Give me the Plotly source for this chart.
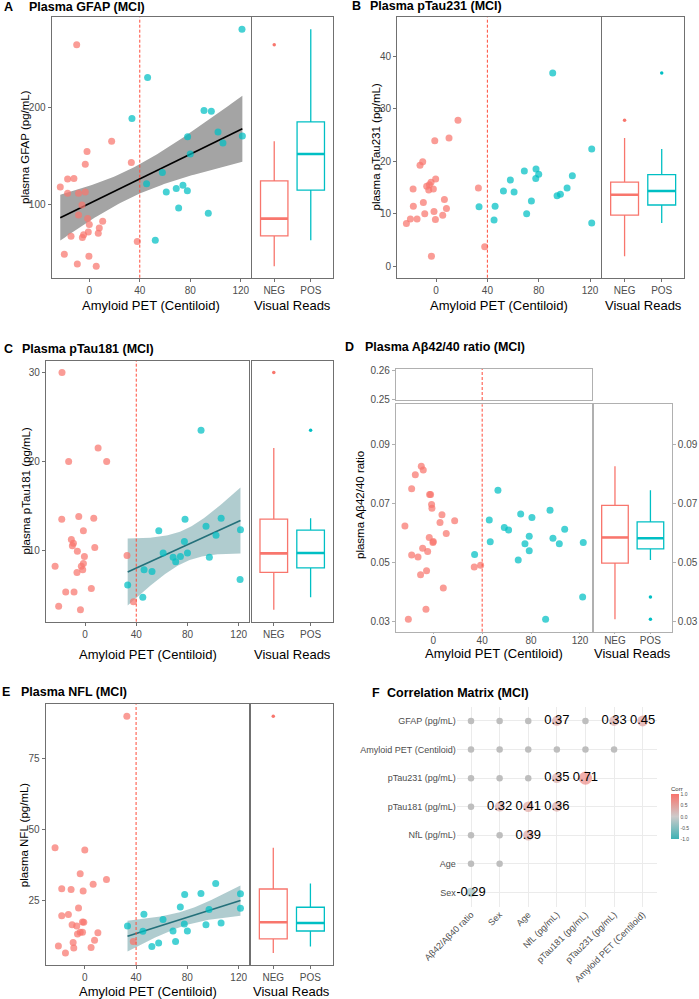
import numpy as np
import plotly.graph_objects as go

# ---------------- data ----------------
groups = ["NEG", "POS"]
cutoff_cl = 40
cl_ticks = [0, 40, 80, 120]

# A: GFAP
gfap_neg_cl = [-10, 17.7, -1.8, -3.2, 33.3, -17.2, -12.2, -23, -17.2, -8.5, -3.2, -5.8, -8.5, -1.3, 0,
               10.6, 7.9, -0.8, -4.5, 7.1, -14.5, -5.5, 38, -19.8, -0.3, -9.5, 5.5]
gfap_neg = [264.6, 165.3, 154.6, 141.6, 143.3, 126.5, 126.8, 118.2, 111.7, 111.7, 113, 99.7, 89.3, 85.6, 79.4,
            82.8, 75.9, 71.8, 69, 70.4, 67.4, 66, 61.9, 48.8, 46.7, 38.8, 36.4]
gfap_pos_cl = [121, 46.2, 33.8, 90.9, 96.7, 102, 121.3, 77.9, 105.9, 80, 57.9, 45.4, 74.2, 68.9, 61, 77.7,
               70.8, 94.3, 52.3]
gfap_pos = [280.8, 230.9, 188.7, 196.9, 196.2, 174.9, 170.8, 169.8, 163.6, 152.2, 133, 121.6, 119.9, 116.5,
            113, 114.4, 96.6, 91.1, 63.2]

# B: pTau231
pt231_neg_cl = [-23.1, -20, -14.8, -17.9, -17.7, -9.9, -8.8, -12.5, -10.4, -1, 10.1, 17.1, -5.2, -5.7, -3.9,
                -2.1, -0.3, -1.6, -0.5, 6.5, 8.1, 5.2, -3.6, 33, 37.9, -7.3]
pt231_neg = [8.1, 9, 9, 14.7, 11.4, 12.1, 10, 19.2, 19.9, 23.9, 24.4, 27.8, 15.5, 14.5, 16, 14.7, 16.6, 10.4,
             8.9, 12.7, 11, 9.7, 1.9, 14.9, 3.7, 15.2]
pt231_pos_cl = [90.9, 121.3, 121.3, 33.5, 46, 45.2, 52.5, 57.9, 60.8, 68.8, 74.3, 70.6, 77.7, 77.9, 80, 94.3,
                96.9, 102.1, 106.2]
pt231_pos = [36.8, 22.3, 8.2, 11.3, 11.4, 8.8, 14.3, 16.4, 14.1, 18.1, 12.4, 10, 16.7, 18.5, 17.5, 13.4, 13.7,
             14.9, 17.2]

# C: pTau181
pt181_neg_cl = [-18, -12.8, 10.2, 16.9, -18.2, -4.9, 6.8, -1.3, -10.7, -9.1, -9.9, 7.6, -6, -0.5, -23.4, -1.3,
                -2.9, -1.8, -6.3, 32.8, 4.9, -15.1, -8.6, -20.6, -3.6, 37.8]
pt181_neg = [30, 20, 21.5, 20, 13.5, 13.8, 13.6, 12.2, 11.2, 10.8, 10.5, 10.3, 9.9, 9.3, 8.2, 8.5, 8.2, 7.8,
             7.5, 9.4, 5.7, 5.3, 5.3, 3.7, 3.3, 4.2]
pt181_pos_cl = [90.6, 78.1, 106.3, 94.5, 57.6, 121.4, 102.3, 77.6, 61, 80, 97.1, 68.8, 74.5, 70.8, 46.1, 52.3,
                33.3, 45.1, 121.1]
pt181_pos = [23.5, 13.5, 13.6, 12.7, 12.2, 12.3, 11.7, 11, 9.7, 9.7, 9.2, 9.2, 9.3, 8.7, 7.8, 7.6, 6.1, 4.7, 6.7]

# D: Abeta42/40
ab_neg_cl = [-9.8, -8.2, -14.7, -17.7, -3, -2.2, -1.4, -1.1, 7.1, 17.5, 5.5, -23.2, 10.6, -3.3, 0, -0.3, -8.7,
             -4.6, -17.7, -12.5, 33.5, 38.7, -5.5, -10.4, 8.2, -6, -20.4]
ab_neg = [0.0826, 0.0813, 0.0797, 0.0749, 0.0730, 0.0730, 0.0696, 0.0683, 0.0661, 0.0641, 0.0635, 0.0623,
          0.0597, 0.0584, 0.0570, 0.0567, 0.0547, 0.0536, 0.0524, 0.0518, 0.0484, 0.0490, 0.0471, 0.0457,
          0.0412, 0.034, 0.0306]
ab_pos_cl = [52.9, 45.8, 58.1, 61.6, 71.5, 80.7, 95.5, 107.5, 78.5, 46.6, 97.9, 75, 103.1, 122.7, 78.5, 33.8,
             69.5, 122.2, 91.9]
ab_pos = [0.0744, 0.0643, 0.0618, 0.0609, 0.0664, 0.0652, 0.0676, 0.0612, 0.0588, 0.0569, 0.0581, 0.0563,
          0.0563, 0.0567, 0.0539, 0.0526, 0.0507, 0.0382, 0.0306]

# E: NfL
nfl_neg_cl = [32.8, -23.2, 0, 16.9, -3.6, 6.5, -18, -10.7, -1.3, -4.9, -18, -12.8, -9.9, -6.3, -1.8, -0.8,
              -3.6, -1.8, -5.7, 10.2, 7.6, -9.1, -20.6, -8.6, 4.9, -15.1, 37.8]
nfl_neg = [90.1, 43.7, 42.9, 32.5, 34.5, 30.8, 29.2, 28.9, 28.4, 22.4, 19.7, 20.1, 16.5, 16.1, 17.5, 17.4,
           13.9, 13.9, 13.2, 13.7, 11, 10.2, 9, 8.3, 8.5, 6.5, 10.6]
nfl_pos_cl = [102.1, 90.6, 77.9, 121.4, 74.5, 121.4, 96.9, 46.1, 61, 77.6, 94.5, 106.3, 33.3, 45.3, 68.8, 80,
              70.8, 57.6, 52.3]
nfl_pos = [31.1, 27.5, 27.2, 27.4, 22.8, 22.3, 21.9, 20.2, 18.4, 16.8, 16.5, 17.1, 16.1, 14.2, 14.3, 14.3,
           10.6, 10.1, 8.8]

# F: correlation matrix (lower triangle; None = not significant -> grey dot)
corr_cols = ["Aβ42/Aβ40 ratio", "Sex", "Age", "NfL (pg/mL)", "pTau181 (pg/mL)", "pTau231 (pg/mL)",
             "Amyloid PET (Centiloid)"]
corr_rows_lab = ["Sex", "Age", "NfL (pg/mL)", "pTau181 (pg/mL)", "pTau231 (pg/mL)",
                 "Amyloid PET (Centiloid)", "GFAP (pg/mL)"]
corr_vals = [
    [-0.29],
    [None, None],
    [None, None, 0.39],
    [None, 0.32, 0.41, 0.36],
    [None, None, None, 0.35, 0.71],
    [None, None, None, None, None, None],
    [None, None, None, 0.37, None, 0.33, 0.45],
]

# ---------------- styling ----------------
W, H = 699, 999
FONT = "Liberation Sans, Arial, sans-serif"
RED, CYAN = "#F8766D", "#00BFC4"
TICK_GREY = "#4D4D4D"
FRAME = "#707070"
FRAME_D = "#B0B0B0"


def t_quant(df):
    z = 1.959964
    g1 = (z ** 3 + z) / 4
    g2 = (5 * z ** 5 + 16 * z ** 3 + 3 * z) / 96
    g3 = (3 * z ** 7 + 19 * z ** 5 + 17 * z ** 3 - 15 * z) / 384
    return z + g1 / df + g2 / df ** 2 + g3 / df ** 3


def lm_band(x, y, n=80):
    x = np.asarray(x, float)
    y = np.asarray(y, float)
    b1, b0 = np.polyfit(x, y, 1)
    xs = np.linspace(x.min(), x.max(), n)
    yh = b0 + b1 * xs
    df = len(x) - 2
    s = np.sqrt(np.sum((y - (b0 + b1 * x)) ** 2) / df)
    se = s * np.sqrt(1 / len(x) + (xs - x.mean()) ** 2 / np.sum((x - x.mean()) ** 2))
    t = t_quant(df)
    return xs, yh, yh - t * se, yh + t * se


fig = go.Figure()
layout = {}
annotations = []
shapes = []


def ann(text, px, py, size, bold=False, angle=0, anchor="center", color="black"):
    annotations.append(dict(
        text=f"<b>{text}</b>" if bold else text, x=px / W, y=1 - py / H, xref="paper", yref="paper",
        xanchor=anchor, yanchor="middle", showarrow=False, textangle=angle,
        font=dict(family=FONT, size=size, color=color)))


def axes(n, xl, xr, yt, yb, xo, yo):
    k = "" if n == 1 else str(n)
    layout["xaxis" + k] = dict(domain=[xl / W, xr / W], anchor="y" + k, **xo)
    layout["yaxis" + k] = dict(domain=[1 - yb / H, 1 - yt / H], anchor="x" + k, **yo)
    return "x" + k, "y" + k


def base(frame=FRAME):
    return dict(showline=True, mirror=True, linecolor=frame, linewidth=1.3, showgrid=False, zeroline=False,
                ticks="outside", ticklen=3, tickcolor=frame, tickwidth=1,
                tickfont=dict(family=FONT, size=10, color=TICK_GREY), fixedrange=True)


def pts(xa, ya, x, y, color):
    fig.add_trace(go.Scatter(x=x, y=y, mode="markers", xaxis=xa, yaxis=ya, showlegend=False,
                             hoverinfo="skip",
                             marker=dict(color=color, size=7, opacity=0.72, line=dict(width=0))))


def fit(xa, ya, x, y, line_col, fill_col):
    xs, yh, lo, hi = lm_band(x, y)
    fig.add_trace(go.Scatter(x=np.concatenate([xs, xs[::-1]]), y=np.concatenate([hi, lo[::-1]]),
                             fill="toself", fillcolor=fill_col, line=dict(width=0), mode="lines",
                             xaxis=xa, yaxis=ya, showlegend=False, hoverinfo="skip"))
    fig.add_trace(go.Scatter(x=xs, y=yh, mode="lines", line=dict(color=line_col, width=1.6),
                             xaxis=xa, yaxis=ya, showlegend=False, hoverinfo="skip"))


def boxes(xa, ya, neg, pos):
    for i, (vals, col) in enumerate([(neg, RED), (pos, CYAN)]):
        fig.add_trace(go.Box(x0=i, y=vals, width=0.75, fillcolor="white", line=dict(color=col, width=1.3),
                             boxpoints="outliers", marker=dict(color=col, size=3.5), whiskerwidth=0,
                             xaxis=xa, yaxis=ya, showlegend=False, hoverinfo="skip"))
        med = float(np.median(vals))
        fig.add_trace(go.Scatter(x=[i - 0.375, i + 0.375], y=[med, med], mode="lines",
                                 line=dict(color=col, width=2.6), xaxis=xa, yaxis=ya,
                                 showlegend=False, hoverinfo="skip"))


def cutoff(xa, ya):
    shapes.append(dict(type="line", xref=xa, yref=ya + " domain", x0=cutoff_cl, x1=cutoff_cl, y0=0, y1=1,
                       line=dict(color="#FF4C3B", width=1, dash="3px,2px")))


def panel(n, sx, bx, yt, yb, xr, yr, yticks, neg_x, neg_y, pos_x, pos_y, fitmode):
    xo = base(); xo.update(range=xr, tickvals=cl_ticks, type="linear")
    yo = base(); yo.update(range=yr, tickvals=yticks)
    xa, ya = axes(n, sx[0], sx[1], yt, yb, xo, yo)
    bxo = base(); bxo.update(range=[-0.6, 1.6], tickvals=[0, 1], ticktext=groups, type="linear")
    byo = base(); byo.update(range=yr, tickvals=yticks, showticklabels=False, ticks="")
    xb, yb_ = axes(n + 1, bx[0], bx[1], yt, yb, bxo, byo)
    if fitmode == "all":
        fit(xa, ya, neg_x + pos_x, neg_y + pos_y, "black", "rgb(164,164,164)")
    elif fitmode == "pos":
        fit(xa, ya, pos_x, pos_y, "#24707A", "rgba(150,187,191,0.75)")
    pts(xa, ya, neg_x, neg_y, RED)
    pts(xa, ya, pos_x, pos_y, CYAN)
    boxes(xb, yb_, neg_y, pos_y)
    cutoff(xa, ya)


# ---------------- A ----------------
panel(1, (51.7, 250.7), (252.3, 332.7), 17.3, 277.7, [-29.8, 127.9], [24.7, 293], [100, 200],
      gfap_neg_cl, gfap_neg, gfap_pos_cl, gfap_pos, "all")
ann("A", 1.7, 7, 12.5, bold=True, anchor="left")
ann("Plasma GFAP (MCI)", 26.7, 7, 12.5, bold=True, anchor="left")
ann("plasma GFAP (pg/mL)", 25.5, 147.5, 11.5, angle=-90)
ann("Amyloid PET (Centiloid)", 151.2, 305.5, 13)
ann("Visual Reads", 292.5, 305.5, 13)

# ---------------- B ----------------
panel(3, (397.3, 600.7), (602.3, 684), 17.3, 277.7, [-30.2, 128.3], [-2.2, 47.4], [0, 10, 20, 30, 40],
      pt231_neg_cl, pt231_neg, pt231_pos_cl, pt231_pos, None)
ann("B", 350.5, 6, 12.5, bold=True, anchor="left")
ann("Plasma pTau231 (MCI)", 368.3, 6, 12.5, bold=True, anchor="left")
ann("plasma pTau231 (pg/mL)", 376, 147.5, 11.5, angle=-90)
ann("Amyloid PET (Centiloid)", 499, 305.5, 13)
ann("Visual Reads", 643.2, 305.5, 13)

# ---------------- C ----------------
panel(5, (46, 249.3), (251.7, 332.7), 361, 621.7, [-30.5, 128.3], [1.96, 31.3], [10, 20, 30],
      pt181_neg_cl, pt181_neg, pt181_pos_cl, pt181_pos, "pos")
ann("C", 1.7, 349.3, 12.5, bold=True, anchor="left")
ann("Plasma pTau181 (MCI)", 20, 349.3, 12.5, bold=True, anchor="left")
ann("plasma pTau181 (pg/mL)", 26, 491.4, 11.5, angle=-90)
ann("Amyloid PET (Centiloid)", 147.7, 654, 13)
ann("Visual Reads", 292.2, 654, 13)

# ---------------- D (broken axis) ----------------
d_main_ticks = [0.03, 0.05, 0.07, 0.09]
d_top_ticks = [0.25, 0.26]
d_main_rng = [0.0264, 0.1036]
d_top_rng = [0.2498, 0.2606]
d_x = [-30.5, 129.6]
xo = base(FRAME_D); xo.update(range=d_x, tickvals=cl_ticks, type="linear", ticklen=1.5, ticklabelstandoff=-2)
yo = base(FRAME_D); yo.update(range=d_main_rng, tickvals=d_main_ticks, tickformat=".2f")
xa7, ya7 = axes(7, 396, 591.7, 404.3, 631.7, xo, yo)
bxo = base(FRAME_D); bxo.update(range=[-0.6, 1.6], tickvals=[0, 1], ticktext=groups, type="linear",
                                ticklen=1.5, ticklabelstandoff=-2)
byo = base(FRAME_D); byo.update(range=d_main_rng, tickvals=d_main_ticks, tickformat=".2f", side="right")
xa8, ya8 = axes(8, 593.7, 671.7, 404.3, 631.7, bxo, byo)
sxo = base(FRAME_D); sxo.update(range=d_x, showticklabels=False, ticks="", type="linear")
syo = base(FRAME_D); syo.update(range=d_top_rng, tickvals=d_top_ticks, tickformat=".2f")
xa9, ya9 = axes(9, 396, 591.7, 369, 400, sxo, syo)
sbxo = base(FRAME_D); sbxo.update(range=[-0.6, 1.6], showticklabels=False, ticks="", type="linear")
sbyo = base(FRAME_D); sbyo.update(range=d_top_rng, tickvals=d_top_ticks, tickformat=".2f", side="right")
xa10, ya10 = axes(10, 593.7, 671.7, 369, 400, sbxo, sbyo)
pts(xa7, ya7, ab_neg_cl, ab_neg, RED)
pts(xa7, ya7, ab_pos_cl, ab_pos, CYAN)
boxes(xa8, ya8, ab_neg, ab_pos)
cutoff(xa7, ya7)
cutoff(xa9, ya9)
ann("D", 343, 346.7, 12.5, bold=True, anchor="left")
ann("Plasma Aβ42/40 ratio (MCI)", 362.7, 346.7, 12.5, bold=True, anchor="left")
ann("plasma Aβ42/40 ratio", 360, 505, 11.5, angle=-90)
ann("Amyloid PET (Centiloid)", 493.9, 653, 13)
ann("Visual Reads", 632.7, 653, 13)

# ---------------- E ----------------
panel(11, (45.7, 249.3), (251, 332.7), 704.3, 965, [-30.5, 128.3], [2.3, 94.3], [25, 50, 75],
      nfl_neg_cl, nfl_neg, nfl_pos_cl, nfl_pos, "pos")
ann("E", 0, 691.7, 12.5, bold=True, anchor="left")
ann("Plasma NFL (MCI)", 19.3, 691.7, 12.5, bold=True, anchor="left")
ann("plasma NFL (pg/mL)", 23.5, 834.7, 11.5, angle=-90)
ann("Amyloid PET (Centiloid)", 147.5, 991, 13)
ann("Visual Reads", 291.9, 991, 13)

# ---------------- F: correlation matrix ----------------
fx = dict(range=[0.5, 7.5], tickvals=list(range(1, 8)), ticktext=corr_cols, tickangle=-45, showgrid=True,
          gridcolor="#EBEBEB", gridwidth=1, zeroline=False, showline=False, ticks="",
          tickfont=dict(family=FONT, size=9, color=TICK_GREY), fixedrange=True)
fy = dict(range=[0.5, 7.5], tickvals=list(range(1, 8)), ticktext=corr_rows_lab, showgrid=True,
          gridcolor="#EBEBEB", gridwidth=1, zeroline=False, showline=False, ticks="",
          tickfont=dict(family=FONT, size=9, color=TICK_GREY), fixedrange=True)
xa13, ya13 = axes(13, 456.7, 657, 706.7, 906.7, fx, fy)

g_x, g_y, s_x, s_y, s_v = [], [], [], [], []
for r, row in enumerate(corr_vals, start=1):
    for c, v in enumerate(row, start=1):
        if v is None:
            g_x.append(c); g_y.append(r)
        else:
            s_x.append(c); s_y.append(r); s_v.append(v)

fig.add_trace(go.Scatter(x=g_x, y=g_y, mode="markers", xaxis=xa13, yaxis=ya13, showlegend=False,
                         hoverinfo="skip", marker=dict(color="#BEBEBE", size=6.5, line=dict(width=0))))
corr_scale = [[0, "#3DB2B4"], [0.5, "#CDCACA"], [1, "#F8736C"]]
fig.add_trace(go.Scatter(
    x=s_x, y=s_y, mode="markers", xaxis=xa13, yaxis=ya13, showlegend=False, hoverinfo="skip",
    marker=dict(color=s_v, colorscale=corr_scale, cmin=-1, cmax=1,
                size=[7 + 8.5 * abs(v) for v in s_v], line=dict(width=0), showscale=True,
                colorbar=dict(x=671 / W, xanchor="left", y=1 - 811.3 / H, yanchor="middle",
                              len=56 / H, lenmode="fraction", thickness=8, thicknessmode="pixels",
                              outlinewidth=0, xpad=0, ypad=0, ticks="",
                              tickvals=[-1, -0.5, 0, 0.5, 1],
                              ticktext=["-1.0", "-0.5", "0.0", "0.5", "1.0"],
                              tickfont=dict(family=FONT, size=5, color=TICK_GREY),
                              title=dict(text="Corr", side="top",
                                         font=dict(family=FONT, size=6, color="#333333"))))))
fig.add_trace(go.Scatter(x=s_x, y=s_y, mode="text", text=[f"{v:.2f}" for v in s_v], textposition="middle center",
                         textfont=dict(family=FONT, size=13, color="black"), xaxis=xa13, yaxis=ya13,
                         showlegend=False, hoverinfo="skip"))
ann("F", 370, 693.3, 12.5, bold=True, anchor="left")
ann("Correlation Matrix (MCI)", 385, 693.3, 12.5, bold=True, anchor="left")

fig.update_layout(width=W, height=H, margin=dict(l=0, r=0, t=0, b=0, pad=0, autoexpand=False),
                  paper_bgcolor="white", plot_bgcolor="white", showlegend=False, font=dict(family=FONT),
                  annotations=annotations, shapes=shapes, **layout)
fig.write_html("out.html", config={"displayModeBar": False, "staticPlot": False},
               post_script="document.body.style.margin='0px';document.body.style.padding='0px';")
